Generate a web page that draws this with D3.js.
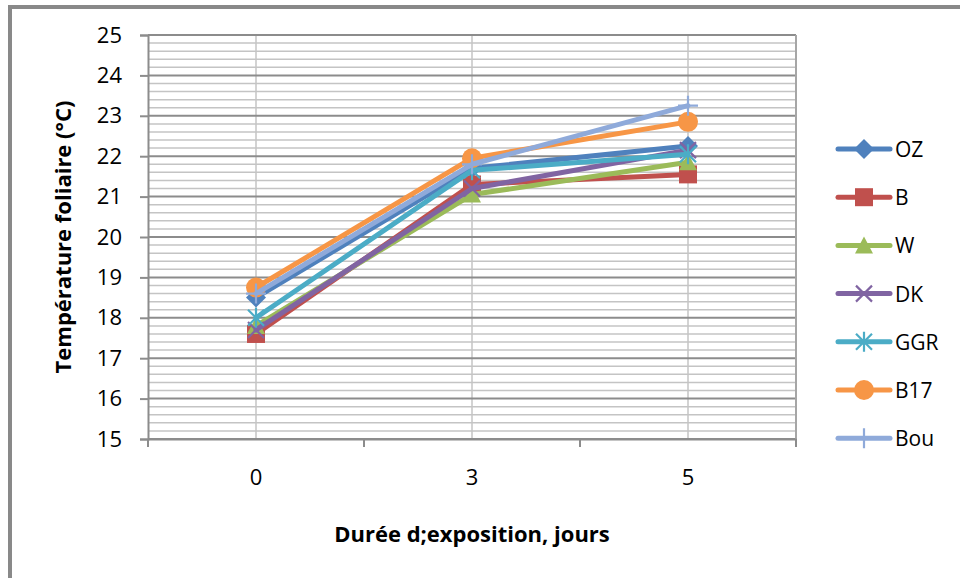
<!DOCTYPE html>
<html>
<head>
<meta charset="utf-8">
<script src="https://cdn.jsdelivr.net/npm/d3@7"></script>
<style>
  html, body { margin: 0; padding: 0; background: #fff; }
  svg { display: block; font-family: "Open Sans", Lato, sans-serif; }
</style>
</head>
<body>
<svg id="chart" width="960" height="578"></svg>
<script>
// Exposure duration (days) and leaf temperature per variety (°C)
const categories = ["0", "3", "5"];
const seriesNames = ["OZ", "B", "W", "DK", "GGR", "B17", "Bou"];
const OZ  = [18.5, 21.7, 22.25];
const B   = [17.6, 21.3, 21.55];
const W   = [17.8, 21.05, 21.85];
const DK  = [17.7, 21.2, 22.15];
const GGR = [18.0, 21.65, 22.05];
const B17 = [18.75, 21.95, 22.85];
const Bou = [18.6, 21.8, 23.25];
const yTicks = [15, 16, 17, 18, 19, 20, 21, 22, 23, 24, 25];

const colors = ["#4F81BD", "#C0504D", "#9BBB59", "#8064A2", "#4BACC6", "#F79646", "#8FAADA"];
const markers = ["diamond", "square", "triangle", "x", "star", "circle", "plus"];
const series = [OZ, B, W, DK, GGR, B17, Bou].map((values, i) => ({
  name: seriesNames[i], values, color: colors[i], marker: markers[i]
}));

const FONT = "'Open Sans', Lato, sans-serif";
const svg = d3.select("#chart");
const plot = { left: 148, right: 796, top: 35, bottom: 439 };

const x = d3.scaleBand().domain(categories).range([plot.left, plot.right]);
const y = d3.scaleLinear().domain([15, 25]).range([plot.bottom, plot.top]);
const cx = c => x(c) + x.bandwidth() / 2;

// outer frame (top and left edges)
svg.append("line").attr("x1", 10).attr("x2", 960).attr("y1", 7).attr("y2", 7)
  .attr("stroke", "#898989").attr("stroke-width", 4);
svg.append("line").attr("x1", 10).attr("x2", 10).attr("y1", 5).attr("y2", 578)
  .attr("stroke", "#898989").attr("stroke-width", 4);

// minor horizontal gridlines every 0.2
const minor = d3.range(15, 25.001, 0.2).filter(v => Math.abs(v - Math.round(v)) > 0.01);
svg.append("g").selectAll("line").data(minor).join("line")
  .attr("x1", plot.left).attr("x2", plot.right)
  .attr("y1", d => y(d)).attr("y2", d => y(d))
  .attr("stroke", "#C4C4C4").attr("stroke-width", 1.5);

// vertical gridlines at categories
svg.append("g").selectAll("line").data(categories).join("line")
  .attr("x1", d => cx(d)).attr("x2", d => cx(d))
  .attr("y1", plot.top).attr("y2", plot.bottom)
  .attr("stroke", "#C4C4C4").attr("stroke-width", 1.5);

// major horizontal gridlines
svg.append("g").selectAll("line").data(yTicks).join("line")
  .attr("x1", plot.left).attr("x2", plot.right)
  .attr("y1", d => y(d)).attr("y2", d => y(d))
  .attr("stroke", "#8C8C8C").attr("stroke-width", 2);

// plot area right border
svg.append("line").attr("x1", plot.right).attr("x2", plot.right)
  .attr("y1", plot.top).attr("y2", plot.bottom)
  .attr("stroke", "#A6A6A6").attr("stroke-width", 2);

// y axis
const yAxis = svg.append("g").attr("transform", `translate(${plot.left},0)`)
  .call(d3.axisLeft(y).tickValues(yTicks).tickSize(8).tickPadding(18).tickFormat(d3.format("d")));
yAxis.select(".domain").attr("stroke", "#8C8C8C").attr("stroke-width", 2);
yAxis.selectAll(".tick line").attr("stroke", "#8C8C8C").attr("stroke-width", 2);
yAxis.selectAll("text").attr("font-size", 22).attr("fill", "#000").attr("font-family", FONT);

// x axis (ticks between categories)
const xAxis = svg.append("g").attr("transform", `translate(0,${plot.bottom})`)
  .call(d3.axisBottom(x).tickSize(0).tickPadding(30));
xAxis.select(".domain").attr("stroke", "#8C8C8C").attr("stroke-width", 2);
xAxis.selectAll("text").attr("font-size", 22).attr("fill", "#000").attr("font-family", FONT);
const bounds = categories.map(c => x(c)).concat([plot.right]);
svg.append("g").selectAll("line").data(bounds).join("line")
  .attr("x1", d => d).attr("x2", d => d)
  .attr("y1", plot.bottom).attr("y2", plot.bottom + 8)
  .attr("stroke", "#8C8C8C").attr("stroke-width", 2);

// axis titles
svg.append("text")
  .attr("transform", `translate(62,${(plot.top + plot.bottom) / 2}) rotate(-90)`)
  .attr("text-anchor", "middle").attr("dominant-baseline", "central")
  .attr("font-size", 22).attr("font-weight", "bold").attr("font-family", FONT)
  .text("Température foliaire (°C)");
svg.append("text")
  .attr("x", cx("3")).attr("y", 533)
  .attr("text-anchor", "middle").attr("dominant-baseline", "central")
  .attr("font-size", 22).attr("font-weight", "bold").attr("font-family", FONT)
  .text("Durée d;exposition, jours");

// marker drawing
function drawMarker(g, type, color) {
  switch (type) {
    case "diamond":
      g.append("path").attr("d", "M0,-10L10,0L0,10L-10,0Z").attr("fill", color);
      break;
    case "square":
      g.append("rect").attr("x", -9).attr("y", -9).attr("width", 18).attr("height", 18).attr("fill", color);
      break;
    case "triangle":
      g.append("path").attr("d", "M0,-9L9,8L-9,8Z").attr("fill", color);
      break;
    case "x":
      g.append("path").attr("d", "M-8,-8L8,8M-8,8L8,-8").attr("stroke", color).attr("stroke-width", 2.2);
      break;
    case "star":
      g.append("path").attr("d", "M-8,-8L8,8M-8,8L8,-8M0,-10L0,10").attr("stroke", color).attr("stroke-width", 2.2);
      break;
    case "circle":
      g.append("circle").attr("r", 10).attr("fill", color);
      break;
    case "plus":
      g.append("path").attr("d", "M0,-10L0,10M-10,0L10,0").attr("stroke", color).attr("stroke-width", 2.2);
      break;
  }
}

const line = d3.line().x((d, i) => cx(categories[i])).y(d => y(d));

series.forEach(s => {
  const g = svg.append("g");
  g.append("path").datum(s.values).attr("d", line)
    .attr("fill", "none").attr("stroke", s.color).attr("stroke-width", 5)
    .attr("stroke-linejoin", "round").attr("stroke-linecap", "round");
  s.values.forEach((v, i) => {
    const m = g.append("g").attr("transform", `translate(${cx(categories[i])},${y(v)})`);
    drawMarker(m, s.marker, s.color);
  });
});

// legend
const legend = svg.append("g");
series.forEach((s, i) => {
  const ly = 149 + i * 48.2;
  const g = legend.append("g").attr("transform", `translate(0,${ly})`);
  g.append("line").attr("x1", 838).attr("x2", 890).attr("y1", 0).attr("y2", 0)
    .attr("stroke", s.color).attr("stroke-width", 5).attr("stroke-linecap", "round");
  const m = g.append("g").attr("transform", "translate(864,0)");
  drawMarker(m, s.marker, s.color);
  g.append("text").attr("x", 895).attr("y", 0).attr("dominant-baseline", "central")
    .attr("font-size", 21).attr("fill", "#000").attr("font-family", FONT).text(s.name);
});
</script>
</body>
</html>
